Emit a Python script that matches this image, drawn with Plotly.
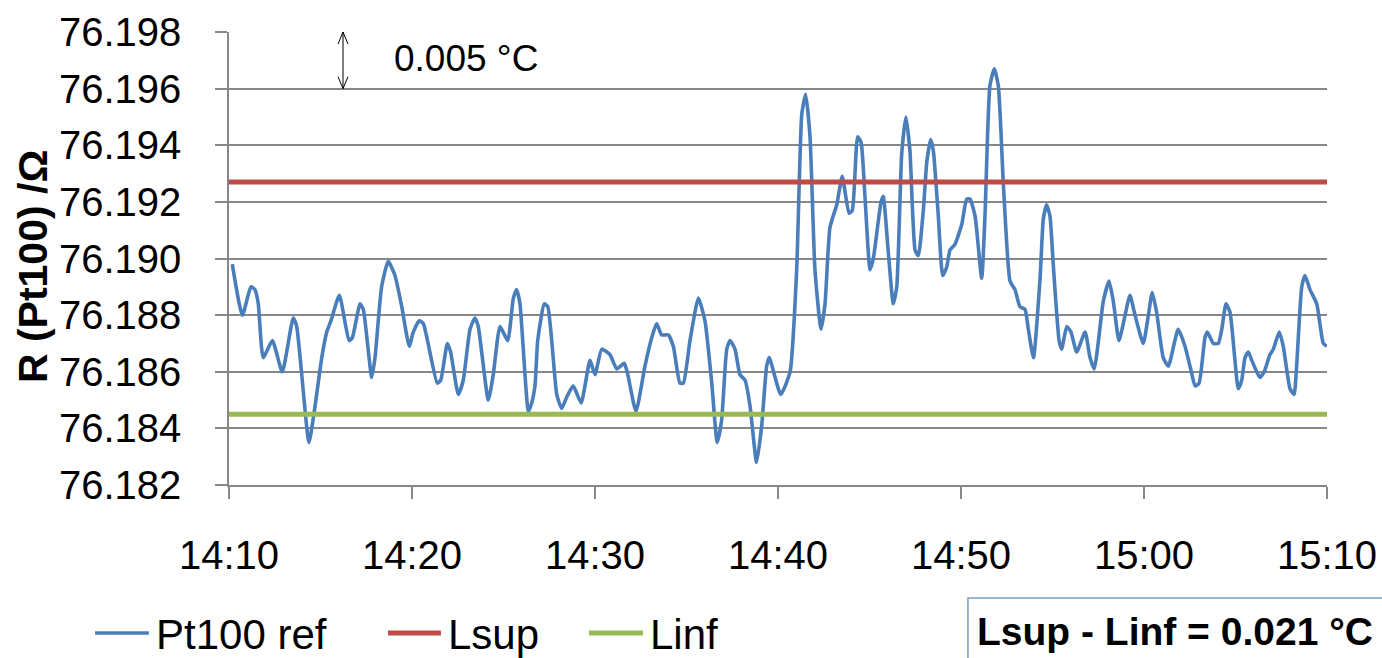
import pandas as pd
import plotly.graph_objects as go

# Pt100 reference resistance, sampled as minutes after 14:10
MINUTES = [
    0.18, 0.73, 1.20, 1.42, 1.60, 1.87, 2.37, 2.91, 3.51, 3.70, 4.37, 4.66, 5.07, 5.34,
    5.57, 6.03, 6.56, 6.74, 7.16, 7.34, 7.80, 7.98, 8.34, 8.70, 9.07, 9.44, 9.85, 10.07,
    10.40, 10.62, 11.38, 11.57, 11.93, 12.11, 12.53, 12.80, 13.17, 13.44, 13.62, 14.17,
    14.44, 14.81, 15.23, 15.54, 15.72, 15.90, 16.36, 16.54, 16.72, 16.87, 17.23, 17.42,
    17.91, 18.18, 18.45, 18.81, 19.24, 19.73, 20.00, 20.37, 20.82, 21.19, 21.60, 21.79,
    22.24, 22.73, 23.10, 23.37, 23.64, 24.01, 24.28, 24.64, 24.83, 25.19, 25.65, 26.01,
    26.38, 26.68, 26.92, 27.20, 27.38, 27.65, 27.92, 28.20, 28.47, 28.83, 29.11, 29.38,
    29.52, 30.15, 30.66, 31.02, 31.30, 31.51, 31.75, 32.02, 32.35, 32.57, 32.84, 33.21,
    33.51, 33.88, 34.06, 34.35, 34.54, 34.75, 35.03, 35.21, 35.63, 35.75, 36.03, 36.30,
    36.49, 36.76, 36.99, 37.21, 37.49, 37.67, 37.94, 38.13, 38.34, 38.49, 38.76, 39.00,
    39.22, 39.40, 39.67, 40.04, 40.31, 40.49, 40.77, 41.13, 41.31, 41.58, 41.82, 42.04,
    42.31, 42.68, 42.95, 43.22, 43.50, 43.68, 43.96, 44.32, 44.50, 44.68, 44.86, 45.04,
    45.36, 45.50, 45.78, 46.01, 46.32, 46.78, 47.05, 47.28, 47.78, 48.09, 48.32, 48.63,
    48.87, 49.23, 49.51, 49.96, 50.24, 50.45, 50.69, 51.05, 51.33, 51.87, 52.24, 52.55,
    52.79, 53.01, 53.33, 53.46, 53.79, 54.06, 54.25, 54.48, 54.70, 54.97, 55.15, 55.34,
    55.52, 55.70, 55.89, 56.16, 56.34, 56.57, 56.88, 57.07, 57.39, 57.61, 57.98, 58.20,
    58.34, 58.62, 58.80, 59.07, 59.44, 59.80, 60.00,
]
PT100_REF = [
    76.1898, 76.1880, 76.1890, 76.1889, 76.1884, 76.1865, 76.1871, 76.1860, 76.1879, 76.1876,
    76.1835, 76.1846, 76.1865, 76.1874, 76.1878, 76.1887, 76.1871, 76.1872, 76.1884, 76.1882,
    76.1858, 76.1865, 76.1890, 76.1899, 76.1894, 76.1883, 76.1869, 76.1874, 76.1878, 76.1877,
    76.1856, 76.1857, 76.1870, 76.1867, 76.1852, 76.1857, 76.1875, 76.1879, 76.1876, 76.1850,
    76.1859, 76.1876, 76.1871, 76.1886, 76.1889, 76.1884, 76.1846, 76.1849, 76.1855, 76.1871,
    76.1884, 76.1883, 76.1852, 76.1847, 76.1851, 76.1855, 76.1849, 76.1864, 76.1859, 76.1868,
    76.1866, 76.1861, 76.1863, 76.1859, 76.1846, 76.1862, 76.1872, 76.1877, 76.1873, 76.1873,
    76.1869, 76.1856, 76.1856, 76.1871, 76.1886, 76.1878, 76.1856, 76.1835, 76.1843, 76.1868,
    76.1871, 76.1868, 76.1859, 76.1857, 76.1848, 76.1828, 76.1841, 76.1862, 76.1865, 76.1852,
    76.1860, 76.1896, 76.1951, 76.1958, 76.1943, 76.1896, 76.1875, 76.1884, 76.1911, 76.1919,
    76.1929, 76.1916, 76.1917, 76.1943, 76.1941, 76.1922, 76.1896, 76.1900, 76.1920, 76.1922,
    76.1902, 76.1884, 76.1890, 76.1937, 76.1950, 76.1938, 76.1903, 76.1901, 76.1917, 76.1934,
    76.1942, 76.1938, 76.1915, 76.1894, 76.1897, 76.1903, 76.1905, 76.1912, 76.1921, 76.1921,
    76.1915, 76.1893, 76.1915, 76.1961, 76.1967, 76.1961, 76.1927, 76.1892, 76.1889, 76.1883,
    76.1882, 76.1875, 76.1865, 76.1893, 76.1914, 76.1919, 76.1915, 76.1898, 76.1871, 76.1868,
    76.1876, 76.1874, 76.1867, 76.1874, 76.1865, 76.1861, 76.1885, 76.1892, 76.1885, 76.1871,
    76.1877, 76.1887, 76.1880, 76.1870, 76.1880, 76.1888, 76.1881, 76.1865, 76.1862, 76.1875,
    76.1869, 76.1861, 76.1855, 76.1856, 76.1872, 76.1874, 76.1870, 76.1870, 76.1875, 76.1884,
    76.1881, 76.1864, 76.1854, 76.1857, 76.1865, 76.1867, 76.1864, 76.1860, 76.1858, 76.1860,
    76.1866, 76.1868, 76.1874, 76.1869, 76.1854, 76.1852, 76.1862, 76.1890, 76.1894, 76.1889,
    76.1884, 76.1870, 76.1869,
]
# Control limits (ohm)
LSUP = 76.1927
LINF = 76.1845

Y_TICKS = [76.182, 76.184, 76.186, 76.188, 76.190, 76.192, 76.194, 76.196, 76.198]
SERIES_NAMES = ["Pt100 ref", "Lsup", "Linf"]
SPAN_LABEL = "0.005 °C"
BOX_LABEL = "Lsup - Linf = 0.021 °C"

BLUE, RED, GREEN = "#4A7EBB", "#BE4B48", "#98B954"
GRID = "#878787"
FONT = "Liberation Sans"

start = pd.Timestamp("2000-01-01 14:10:00")
end = pd.Timestamp("2000-01-01 15:10:00")
times = [start + pd.Timedelta(minutes=m) for m in MINUTES]
limit_times = [start, end]

fig = go.Figure()
fig.add_trace(go.Scatter(x=times, y=PT100_REF, mode="lines", name=SERIES_NAMES[0],
                         line=dict(color=BLUE, width=3.6, shape="spline", smoothing=0.5)))
fig.add_trace(go.Scatter(x=limit_times, y=[LSUP, LSUP], mode="lines", name=SERIES_NAMES[1],
                         line=dict(color=RED, width=5)))
fig.add_trace(go.Scatter(x=limit_times, y=[LINF, LINF], mode="lines", name=SERIES_NAMES[2],
                         line=dict(color=GREEN, width=5)))

fig.update_layout(
    width=1382, height=658,
    margin=dict(l=229, r=55, t=32, b=173, autoexpand=False),
    paper_bgcolor="white", plot_bgcolor="white",
    showlegend=False,
    font=dict(family=FONT, color="black"),
)
fig.update_xaxes(
    type="date", range=[start, end], dtick=600000, tickformat="%H:%M",
    showgrid=False, showline=True, linecolor=GRID, linewidth=1.5,
    ticks="outside", ticklen=12, tickcolor=GRID, tickwidth=1.5,
    tickfont=dict(size=40, family=FONT), ticklabelstandoff=22, automargin=False,
)
fig.update_yaxes(
    range=[Y_TICKS[0], Y_TICKS[-1]], tickvals=Y_TICKS, tickformat=".3f",
    showgrid=True, gridcolor=GRID, gridwidth=1.5, zeroline=False,
    showline=True, linecolor=GRID, linewidth=1.5,
    ticks="outside", ticklen=12, tickcolor=GRID, tickwidth=1.5,
    tickfont=dict(size=40, family=FONT), ticklabelstandoff=26, automargin=False,
)

# Vertical axis title
annotations = [dict(
    text="<b>R (Pt100) /Ω</b>", textangle=-90, xref="paper", yref="paper",
    x=-0.1785, y=0.481, xanchor="center", yanchor="middle", showarrow=False,
    font=dict(size=41, family=FONT),
)]

# Double-headed marker spanning one grid step
arrow_x = start + pd.Timedelta(minutes=6.23)
shapes = [
    dict(type="line", xref="x", yref="y", x0=arrow_x, x1=arrow_x,
         y0=Y_TICKS[-2], y1=Y_TICKS[-1], line=dict(color="black", width=1)),
    dict(type="path", xref="x", yref="y", xsizemode="pixel", ysizemode="pixel",
         xanchor=arrow_x, yanchor=Y_TICKS[-1], path="M -5 -12 L 0 0 L 5 -12",
         line=dict(color="black", width=1)),
    dict(type="path", xref="x", yref="y", xsizemode="pixel", ysizemode="pixel",
         xanchor=arrow_x, yanchor=Y_TICKS[-2], path="M -5 12 L 0 0 L 5 12",
         line=dict(color="black", width=1)),
]
annotations.append(dict(
    text=SPAN_LABEL, xref="x", yref="y", x=start + pd.Timedelta(minutes=8.91),
    y=76.19705, xanchor="left", yanchor="middle", showarrow=False,
    font=dict(size=37, family=FONT),
))

# Legend drawn below the axis
legend_y = -0.3267
legend_items = [
    (SERIES_NAMES[0], BLUE, 3.6, -0.1220, -0.0730, -0.0685),
    (SERIES_NAMES[1], RED, 5, 0.1448, 0.1930, 0.1975),
    (SERIES_NAMES[2], GREEN, 5, 0.3279, 0.3770, 0.3815),
]
for name, color, width, x0, x1, tx in legend_items:
    shapes.append(dict(type="line", xref="paper", yref="paper", x0=x0, x1=x1,
                       y0=legend_y, y1=legend_y, line=dict(color=color, width=width)))
    annotations.append(dict(text=name, xref="paper", yref="paper", x=tx, y=legend_y - 0.004,
                            xanchor="left", yanchor="middle", showarrow=False,
                            font=dict(size=42, family=FONT)))

# Boxed summary of the limit spread
shapes.append(dict(type="rect", xref="paper", yref="paper", x0=0.673, x1=1.2,
                   y0=-0.5, y1=-0.2494, line=dict(color="#7E9CC4", width=1.5)))
annotations.append(dict(
    text="<b>" + BOX_LABEL + "</b>", xref="paper", yref="paper", x=0.6794, y=-0.3245,
    xanchor="left", yanchor="middle", showarrow=False, font=dict(size=39, family=FONT),
))

fig.update_layout(shapes=shapes, annotations=annotations)
fig.write_html("out.html")
